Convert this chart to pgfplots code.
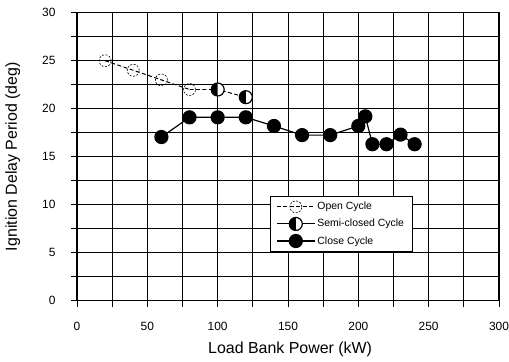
\documentclass[border=0pt]{standalone}
\usepackage{fontspec}
\setmainfont{Liberation Sans}
\usepackage{pgfplots}
\pgfplotsset{compat=1.18}
\usetikzlibrary{plotmarks}
\pgfdeclareplotmark{semi}{%
  \pgfpathcircle{\pgfpointorigin}{\pgfplotmarksize}%
  \pgfsetfillcolor{white}\pgfusepathqfillstroke
  \pgfpathmoveto{\pgfqpoint{0pt}{\pgfplotmarksize}}%
  \pgfpatharc{90}{270}{\pgfplotmarksize}\pgfpathclose
  \pgfsetfillcolor{black}\pgfusepathqfill}
\begin{document}
\begin{tikzpicture}
\begin{axis}[
  scale only axis,
  width=422bp, height=288bp,
  xmin=0, xmax=300, ymin=0, ymax=30,
  xtick={0,50,...,300}, ytick={0,5,...,30},
  minor xtick={25,75,...,275}, minor ytick={2.5,7.5,...,27.5},
  grid=both,
  major grid style={black, line width=0.9pt},
  minor grid style={black, line width=0.9pt},
  axis line style={black, line width=1.3pt},
  tick align=center,
  major tick length=12bp, minor tick length=12bp,
  tick style={black, line width=1pt},
  tick pos=left,
  /pgf/number format/assume math mode=true,
  ticklabel style={font=\fontsize{12}{14}\selectfont},
  xticklabel style={yshift=-12bp},
  yticklabel style={xshift=-12bp},
  xlabel={Load Bank Power (kW)},
  ylabel={Ignition Delay Period (deg)},
  label style={font=\fontsize{16}{18}\selectfont},
  xlabel style={at={(axis description cs:0.505,-0.170)}, anchor=center},
  ylabel style={at={(axis description cs:-0.152,0.5)}, anchor=center},
  legend style={at={(axis cs:137,5.07)}, anchor=south west, draw=black, line width=1pt,
    fill=white, font=\fontsize{10.5}{12}\selectfont, row sep=4bp, inner xsep=6bp, inner ysep=4bp},
  legend cell align=left,
  legend image code/.code={\draw[mark repeat=2,mark phase=2] plot coordinates {(0bp,0bp) (19bp,0bp) (38bp,0bp)};},
]
% Open cycle
\addplot[black, line width=1pt, dash pattern=on 4pt off 2.5pt, mark=o,
  mark size=6bp, mark options={solid, line width=0.6pt, dash pattern=on 2pt off 1.5pt}]
  coordinates {(20,25) (40,24) (60,23) (80,22)};
\addlegendentry{Open Cycle}
% Semi-closed cycle
\addplot[black, line width=1pt, dash pattern=on 4pt off 2.5pt, forget plot]
  coordinates {(80,22) (100,22) (120,21.2)};
\addplot[only marks, mark=semi, mark size=6.5bp,
  mark options={black, line width=1.2pt}, forget plot]
  coordinates {(100,22) (120,21.2)};
\addlegendimage{black, line width=1pt, mark=semi, mark size=6.5bp,
  mark options={black, line width=1.2pt}}
\addlegendentry{Semi-closed Cycle}
% Close cycle
\addplot[black, line width=1.2pt, mark=*, mark size=6.5bp, mark options={solid, fill=black}]
  coordinates {(60,17.05) (80,19.1) (100,19.1) (120,19.1) (140,18.2) (160,17.25) (180,17.25)
   (200,18.2) (205,19.2) (210,16.3) (220,16.3) (230,17.3) (240,16.3)};
\addlegendentry{Close Cycle}
\coordinate (bl) at (rel axis cs:0,0);
\coordinate (tr) at (rel axis cs:1,1);
\end{axis}
\pgfresetboundingbox
\path[use as bounding box] ([xshift=-77bp,yshift=-61.3bp]bl) rectangle ([xshift=10bp,yshift=12.7bp]tr);
\end{tikzpicture}
\end{document}
